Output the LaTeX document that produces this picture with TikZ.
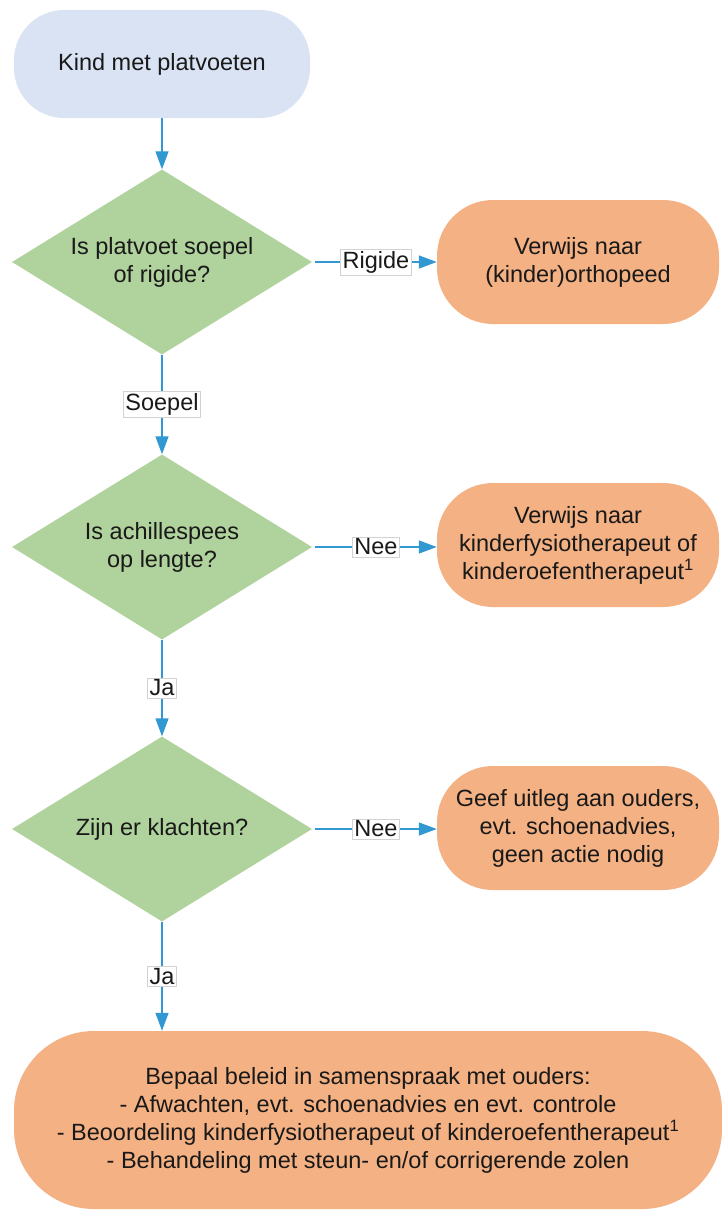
\documentclass[tikz,border=0pt]{standalone}
\usepackage{fontspec}
\setmainfont{Liberation Sans}
\usetikzlibrary{shapes.geometric,arrows.meta}
\definecolor{startblue}{RGB}{218,227,243}
\definecolor{dgreen}{RGB}{176,210,156}
\definecolor{orng}{RGB}{244,177,131}
\definecolor{linkblue}{RGB}{50,152,210}
\definecolor{txt}{RGB}{25,25,25}
\begin{document}
\begin{tikzpicture}[x=1pt,y=-1pt,
  every node/.style={font=\fontsize{23.5}{28}\selectfont, text=txt, align=center},
  startbox/.style={rectangle, rounded corners=50pt, fill=startblue, minimum width=296pt, minimum height=108pt, inner sep=0pt},
  decis/.style={diamond, fill=dgreen, minimum width=300pt, minimum height=185pt, inner sep=0pt, aspect=1.62},
  actbox/.style={rectangle, rounded corners=56pt, fill=orng, minimum width=282pt, minimum height=124pt, inner sep=0pt},
  finbox/.style={rectangle, rounded corners=80pt, fill=orng, minimum width=708pt, minimum height=178pt, inner sep=0pt},
  arr/.style={draw=linkblue, line width=1.4pt, -{Triangle[length=18pt,width=13pt]}},
  lbl/.style={fill=white, draw=gray!35, line width=0.4pt, inner sep=2pt}
]
\useasboundingbox (0,0) rectangle (721,1210);
\node[startbox] (start) at (162,64) {Kind met platvoeten};
\node[decis] (d1) at (162,262) {Is platvoet soepel\\of rigide?};
\node[actbox] (r1) at (578,262) {Verwijs naar\\(kinder)orthopeed};
\node[decis] (d2) at (162,547) {Is achillespees\\op lengte?};
\node[actbox] (r2) at (578,545) {Verwijs naar\\kinderfysiotherapeut of\\kinderoefentherapeut\textsuperscript{1}};
\node[decis] (d3) at (162,829) {Zijn er klachten?};
\node[actbox] (r3) at (578,828) {Geef uitleg aan ouders,\\evt. schoenadvies,\\geen actie nodig};
\node[finbox] (fin) at (368,1120) {Bepaal beleid in samenspraak met ouders:\\- Afwachten, evt. schoenadvies en evt. controle\\- Beoordeling kinderfysiotherapeut of kinderoefentherapeut\textsuperscript{1}\\- Behandeling met steun- en/of corrigerende zolen};
\draw[arr] (start) -- (d1);
\draw[arr] (d1.east) ++(3,0) -- node[lbl]{Rigide} (r1.west);
\draw[arr] (d1) -- node[lbl]{Soepel} (d2);
\draw[arr] (d2.east) ++(3,0) -- node[lbl]{Nee} (r2.west |- d2.east);
\draw[arr] (d2) -- node[lbl]{Ja} (d3);
\draw[arr] (d3.east) ++(3,0) -- node[lbl]{Nee} (r3.west |- d3.east);
\draw[arr] (d3) -- node[lbl]{Ja} (d3 |- fin.north);
\end{tikzpicture}
\end{document}
